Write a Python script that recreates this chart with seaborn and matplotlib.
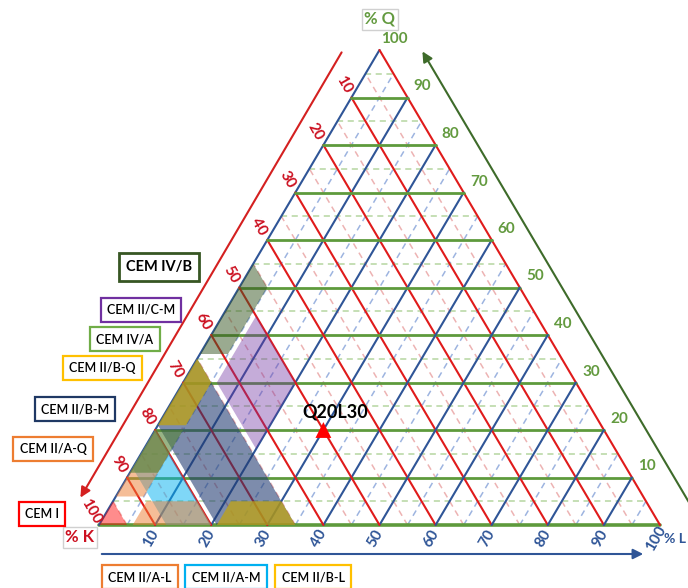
"""
    Ternary diagram K / L / Q with the cement types of EN 197-1 shaded in.
"""
import matplotlib
matplotlib.use("Agg")
import matplotlib.pyplot as plt
import seaborn as sns
from matplotlib.patches import Polygon

# ticks on the three sides (percent)
k_ticks = [10, 20, 30, 40, 50, 60, 70, 80, 90, 100]
l_ticks = [10, 20, 30, 40, 50, 60, 70, 80, 90, 100]
q_ticks = [10, 20, 30, 40, 50, 60, 70, 80, 90, 100]

# shaded regions, vertices as (K, L, Q)
cem_iia_m = [(88, 12, 0), (80, 20, 0), (80, 0, 20), (88, 0, 12)]
cem_iib_m = [(79, 21, 0), (65, 35, 0), (65, 0, 35), (79, 0, 21)]
cem_iic_m = [(50, 6, 44), (50, 20, 30), (64, 20, 16), (64, 6, 30)]
cem_ivb = [(45, 0, 55), (45, 5, 50), (59, 5, 36), (64, 0, 36)]
cem_iia_l = [(94, 6, 0), (80, 20, 0), (80, 15, 5), (89, 6, 5)]
cem_iia_q = [(94, 0, 6), (89, 5, 6), (80, 5, 15), (80, 0, 20)]
cem_iva = [(89, 0, 11), (84, 5, 11), (75, 5, 20), (80, 0, 20)]
cem_iib_q = [(65, 0, 35), (65, 5, 30), (74, 5, 21), (79, 0, 21)]
cem_iib_l = [(79, 21, 0), (65, 35, 0), (65, 30, 5), (74, 21, 5)]
cem_i = [(100, 0, 0), (95, 5, 0), (95, 0, 5)]

# the marked mix
point_klq = (50, 30, 20)
point_label = "Q20L30"

# legend boxes
box_names_left = ["CEM IV/B", "CEM II/C-M", "CEM IV/A", "CEM II/B-Q",
                  "CEM II/B-M", "CEM II/A-Q", "CEM I"]
box_names_bottom = ["CEM II/A-L", "CEM II/A-M", "CEM II/B-L"]

# triangle in pixel space: K corner at (X0, Y0), side W wide, H high
X0, Y0, W, H = 99, 525, 561, 475


def tern(k, l, q):
    """(K, L, Q) in percent -> pixel position"""
    return X0 + (l + q / 2) / 100 * W, Y0 - q / 100 * H


sns.set_theme(style="white")
plt.rcParams['font.family'] = ['Lato', 'DejaVu Sans']

fig = plt.figure(figsize=(6.88, 5.88), dpi=100)
ax = fig.add_axes([0, 0, 1, 1])
ax.set_xlim(0, 688)
ax.set_ylim(588, 0)
ax.axis("off")

C_Q, C_L, C_K = "#5E9A3C", "#2F5597", "#E01B1B"
CD_Q, CD_L, CD_K = "#B5D6A0", "#9DB4E0", "#EDB3B3"

# dashed 5-lines
for v in range(5, 100, 10):
    for p0, p1, c in [(tern(100 - v, 0, v), tern(0, 100 - v, v), CD_Q),
                      (tern(100 - v, v, 0), tern(0, v, 100 - v), CD_L),
                      (tern(v, 100 - v, 0), tern(v, 0, 100 - v), CD_K)]:
        ax.plot([p0[0], p1[0]], [p0[1], p1[1]], c=c, lw=1.1,
                ls=(0, (4, 3)), zorder=1)

# solid 10-lines (the 0-lines are the triangle sides)
for v in range(0, 100, 10):
    p0, p1 = tern(100 - v, 0, v), tern(0, 100 - v, v)
    ax.plot([p0[0], p1[0]], [p0[1], p1[1]], c=C_Q, lw=2.6 if v == 0 else 2.0, zorder=2)
    p0, p1 = tern(100 - v, v, 0), tern(0, v, 100 - v)
    ax.plot([p0[0], p1[0]], [p0[1], p1[1]], c=C_L, lw=1.5, zorder=2)
    p0, p1 = tern(v, 100 - v, 0), tern(v, 0, 100 - v)
    ax.plot([p0[0], p1[0]], [p0[1], p1[1]], c=C_K, lw=1.5, zorder=2)

# shaded regions, in drawing order
regions = [
    (cem_iia_m, "#00B0F0", 0.50),
    (cem_iib_m, "#203A70", 0.58),
    (cem_iic_m, "#7030A0", 0.40),
    (cem_ivb, "#375623", 0.50),
    (cem_iia_l, "#ED7D31", 0.50),
    (cem_iia_q, "#ED7D31", 0.50),
    (cem_iva, "#548235", 0.60),
    (cem_iib_q, "#C0A412", 0.75),
    (cem_iib_l, "#C0A412", 0.75),
    (cem_i, "#FF0000", 0.45),
]
for verts, col, a in regions:
    ax.add_patch(Polygon([tern(*v) for v in verts], closed=True,
                         facecolor=col, edgecolor="none", alpha=a, zorder=3))

# tick labels
for k in k_ticks:
    x, y = tern(k, 0, 100 - k)
    ax.text(x - 8, y - 13, str(k), color="#CC1020", fontsize=11, fontweight="bold",
            rotation=-60, ha="center", va="center", zorder=6)
for q in q_ticks:
    x, y = tern(0, 100 - q, q)
    ax.text(x + 15, y - 11, str(q), color="#639A3F", fontsize=11, fontweight="bold",
            ha="center", va="center", zorder=6)
for l in l_ticks:
    x, y = tern(100 - l, l, 0)
    ax.text(x - 4, y + 13, str(l), color=C_L, fontsize=11, fontweight="bold",
            rotation=60, ha="center", va="center", zorder=6)

# axis names
grey_box = dict(boxstyle="square,pad=0.15", fc="white", ec="#D0D0D0", lw=1)
ax.text(380, 19, "% Q", color="#639A3F", fontsize=12, fontweight="bold",
        ha="center", va="center", bbox=grey_box)
ax.text(80, 537, "% K", color="#CC1020", fontsize=12, fontweight="bold",
        ha="center", va="center", bbox=grey_box)
ax.text(686, 539, "% L", color=C_L, fontsize=10, fontweight="bold",
        ha="right", va="center")

# direction arrows beside the sides
arr = dict(arrowstyle="-|>,head_length=0.5,head_width=0.25", lw=1.5)
ax.annotate("", xy=(79, 500), xytext=(343, 50),
            arrowprops=dict(arr, color="#D42020"))
ax.annotate("", xy=(421, 49), xytext=(700, 521),
            arrowprops=dict(arr, color="#3E6B2A"))
ax.annotate("", xy=(646, 554), xytext=(99, 554),
            arrowprops=dict(arr, color=C_L))

# marked point
px, py = tern(*point_klq)
sns.scatterplot(x=[px], y=[py], marker="^", color="red", s=130,
                edgecolor="none", ax=ax, zorder=7)
ax.text(px + 12, py - 18, point_label, fontsize=13, fontweight="bold",
        color="black", ha="center", va="center", zorder=7)

# legend boxes
left_pos = [(159, 267), (141, 310), (125, 339), (102, 368),
            (75, 409), (53, 449), (42, 514)]
left_edge = ["#375623", "#7030A0", "#70AD47", "#FFC000",
             "#1F3864", "#ED7D31", "#FF0000"]
for name, (x, y), ec in zip(box_names_left, left_pos, left_edge):
    big = name == "CEM IV/B"
    ax.text(x, y, name, fontsize=10.5 if big else 9,
            fontweight="bold" if big else "semibold", color="black",
            ha="center", va="center",
            bbox=dict(boxstyle="square,pad=0.5", fc="white", ec=ec, lw=2 if big else 1.6))
bottom_pos = [(140, 577), (226, 577), (313, 577)]
bottom_edge = ["#ED7D31", "#00B0F0", "#FFC000"]
for name, (x, y), ec in zip(box_names_bottom, bottom_pos, bottom_edge):
    ax.text(x, y, name, fontsize=9, fontweight="semibold", color="black",
            ha="center", va="center",
            bbox=dict(boxstyle="square,pad=0.5", fc="white", ec=ec, lw=1.6))

fig.savefig("out.png", dpi=100)
